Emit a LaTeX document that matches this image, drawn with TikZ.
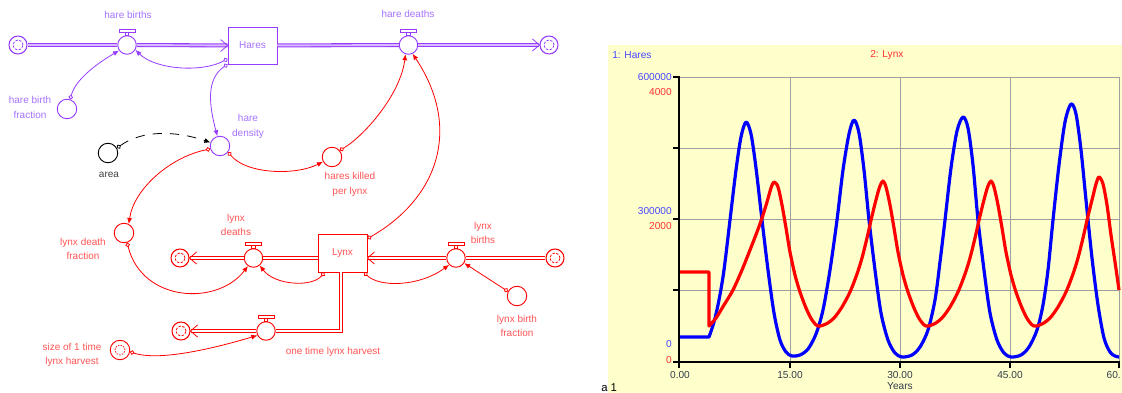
\documentclass[tikz,border=0pt]{standalone}
\usepackage{fontspec}
\setmainfont{Liberation Sans}
\usetikzlibrary{arrows.meta,calc}
\definecolor{pur}{RGB}{150,60,255}
\definecolor{purtxt}{RGB}{165,115,255}
\definecolor{rd}{RGB}{255,0,0}
\definecolor{rdtxt}{RGB}{255,85,85}
\definecolor{chartbg}{RGB}{255,255,204}
\definecolor{gridc}{RGB}{160,160,160}
\definecolor{axblue}{RGB}{70,70,255}
\definecolor{axred}{RGB}{255,50,50}
\definecolor{axtxt}{RGB}{50,60,75}
\definecolor{cblue}{RGB}{0,0,255}
\definecolor{cred}{RGB}{255,0,0}
\begin{document}
\begin{tikzpicture}[x=0.75pt,y=-0.75pt,
  lbl/.style={font=\fontsize{7.5}{11}\selectfont, align=center, inner sep=0pt},
  plbl/.style={lbl, text=purtxt},
  rlbl/.style={lbl, text=rdtxt},
  valve/.style={circle, draw, fill=white, line width=0.7pt, minimum size=13.9pt, inner sep=0pt},
  aux/.style={circle, draw, fill=white, line width=0.7pt, minimum size=14.6pt, inner sep=0pt},
  stock/.style={rectangle, draw, fill=white, line width=0.7pt, minimum width=36.75pt, minimum height=27.75pt, inner sep=0pt, font=\fontsize{7.5}{9}\selectfont},
  cloudn/.style={circle, draw, line width=0.8pt, minimum size=13.5pt, inner sep=0pt,
     path picture={\draw[line width=0.6pt, dash pattern=on 1.8pt off 1.2pt] (path picture bounding box.center) circle[radius=3.8pt];}},
  pipe/.style={line width=0.8pt, double distance=1.4pt},
  conn/.style={line width=0.6pt, {Circle[open,length=3.4pt,width=3.4pt]}-{Latex[length=4.5pt,width=3.8pt]}},
  chevR/.pic={\draw[line width=0.6pt] (-7,-6) -- (0,0) -- (-7,6);},
  chevL/.pic={\draw[line width=0.6pt] (7,-6) -- (0,0) -- (7,6);},
  vbar/.pic={\draw[line width=0.6pt, fill=white] (-8,-5.5) rectangle (8,-2.5) (-1.8,-2.5) rectangle (1.8,0);},
  clbl/.style={font=\fontsize{7.6}{9}\selectfont, inner sep=0pt},
]
\useasboundingbox (0,0) rectangle (1122,393);
\fill[white] (0,0) rectangle (1122,393);

% ================= stock and flow diagram =================
\node[cloudn, draw=pur] (cl1) at (18,45) {};
\node[valve, draw=pur] (hb) at (127,45) {};
\node[stock, draw=pur, text=purtxt] (Hares) at (252.5,45.5) {Hares};
\node[valve, draw=pur] (hd) at (408.5,45) {};
\node[cloudn, draw=pur] (cl2) at (549,45) {};
\node[aux, draw=pur] (hbf) at (67,109) {};
\node[aux, draw=pur] (hden) at (220,146) {};
\node[aux, draw=black] (area) at (108,153) {};
\node[aux, draw=rd] (hkpl) at (332,157) {};
\node[aux, draw=rd] (ldf) at (124,233) {};
\node[stock, draw=rd, text=rdtxt, minimum height=28.5pt] (Lynx) at (342.5,253) {Lynx};
\node[valve, draw=rd] (ld) at (253.5,258) {};
\node[cloudn, draw=rd] (cl3) at (180,258) {};
\node[valve, draw=rd] (lb) at (456,258) {};
\node[cloudn, draw=rd] (cl4) at (555,258) {};
\node[aux, draw=rd] (lbf) at (517,296) {};
\node[valve, draw=rd] (oth) at (266,331) {};
\node[cloudn, draw=rd] (cl5) at (181,331) {};
\node[aux, draw=rd, path picture={\draw[line width=0.5pt, dash pattern=on 1.2pt off 0.9pt] (path picture bounding box.center) circle[radius=3.8pt];}] (sz) at (120,350) {};

% valve bars
\pic[pur] at (hb.north) {vbar};
\pic[pur] at (hd.north) {vbar};
\pic[rd] at (ld.north) {vbar};
\pic[rd] at (lb.north) {vbar};
\pic[rd] at (oth.north) {vbar};

% flows (pipes)
\draw[pipe, pur, double=pur!35] (cl1) -- (hb);
\draw[pipe, pur, double=pur!35] (hb) -- (Hares);
\pic[pur] at (Hares.west) {chevR};
\draw[pipe, pur, double=pur!35] (Hares) -- (hd);
\draw[pipe, pur, double=pur!35] (hd) -- (cl2);
\pic[pur] at (cl2.west) {chevR};

\draw[pipe, rd, double=white] (Lynx.west |- ld) -- (ld);
\draw[pipe, rd, double=white] (ld) -- (cl3);
\pic[rd] at (cl3.east) {chevL};
\draw[pipe, rd, double=white] (cl4) -- (lb);
\draw[pipe, rd, double=white] (lb) -- (Lynx.east |- lb);
\pic[rd] at (Lynx.east |- lb) {chevL};
\draw[pipe, rd, double=white] ([xshift=-1.2pt]Lynx.south) |- (oth);
\draw[pipe, rd, double=white] (oth) -- (cl5);
\pic[rd] at (cl5.east) {chevL};

% connectors
\draw[conn, pur] (hbf.72) .. controls +(6,-22) and +(-17,10) .. (hb.215);
\draw[conn, pur] (Hares.208) .. controls +(-25,14) and +(20,20) .. (hb.-30);
\draw[conn, pur] (Hares.217) .. controls +(-22,15) and +(-8,-30) .. (hden.105);
\draw[conn, black, dash pattern=on 7pt off 6pt] (area.29) .. controls +(25,-18) and +(-35,-12) .. (hden.160);
\draw[conn, rd] (hden.197) .. controls +(-40,8) and +(5,-35) .. (ldf.62);
\draw[conn, rd] (hden.-37) .. controls +(18,22) and +(-28,14) .. (hkpl.208);
\draw[conn, rd] (hkpl.40) .. controls +(25,-15) and +(-5,40) .. (hd.252);
\draw[conn, rd] (Lynx.30) .. controls +(70,-40) and +(50,75) .. (hd.-65);
\draw[conn, rd] (ldf.-72) .. controls +(15,60) and +(-30,40) .. (ld.235);
\draw[conn, rd] (Lynx.227) .. controls +(-12,15) and +(15,20) .. (ld.-50);
\draw[conn, rd] (Lynx.-42) .. controls +(15,15) and +(-30,22) .. (lb.225);
\draw[conn, rd] (lbf.153) -- (lb.-32);
\draw[conn, rd] (sz.-10) .. controls +(30,10) and +(-40,12) .. (oth.207);

% labels
\node[plbl] (lhb) at (128,15) {hare births};
\node[plbl] (lhd) at (408,14) {hare deaths};
\node[plbl] (lhbf) at (30,107.5) {hare birth\\fraction};
\node[plbl] (lhden) at (248,126.5) {hare\\density};
\node[lbl, text=black!75] (larea) at (109,175) {area};
\node[rlbl] (lhkpl) at (350,184.5) {hares killed\\per lynx};
\node[rlbl] (lldf) at (83,249) {lynx death\\fraction};
\node[rlbl] (lld) at (236,225) {lynx\\deaths};
\node[rlbl] (llb) at (483,233) {lynx\\births};
\node[rlbl] (llbf) at (517,326) {lynx birth\\fraction};
\node[rlbl] (lsz) at (72,355) {size of 1 time\\lynx harvest};
\node[rlbl] (loth) at (333,352) {one time lynx harvest};

% ================= graph =================
\fill[chartbg] (608,45) rectangle (1122,393);
\draw[gridc, line width=0.6pt]
  (679,77) -- (1119,77) (679,148) -- (1119,148) (679,219) -- (1119,219) (679,290) -- (1119,290)
  (790,77) -- (790,362) (900,77) -- (900,362) (1010,77) -- (1010,362) (1119,77) -- (1119,362);

\draw[cblue, line width=2.4pt, line join=round] (680,337) -- plot[smooth, tension=0.5] coordinates {
 (709,337) (714,322) (719,300) (724,270) (730,220) (736,170) (741,137) (746,122) (751,134) (756,168)
 (762,220) (768,270) (774,313) (780,340) (786,352) (792,356) (800,355) (808,349) (816,334) (823,310)
 (830,270) (837,220) (843,170) (849,134) (854,120) (859,133) (864,170) (869,220) (875,270) (881,313)
 (888,340) (895,353) (902,357) (912,355) (920,347) (928,330) (935,300) (940,262) (945,220) (951,168)
 (957,131) (963,117) (968,128) (973,165) (978,220) (984,270) (990,313) (997,340) (1004,353) (1011,357)
 (1021,355) (1029,347) (1037,330) (1043,305) (1048,270) (1053,220) (1059,165) (1065,122) (1071,104)
 (1076,114) (1081,150) (1086,200) (1092,258) (1098,305) (1104,338) (1110,352) (1115,356) (1119,357)};

\draw[cred, line width=2.4pt, line join=round] (680,272) -- (709,272) -- plot[smooth, tension=0.5] coordinates {
 (709,326) (716,318) (724,305) (733,290) (742,270) (750,250) (757,232) (762,218) (767,202) (771,188) (774,182)
 (778,187) (782,205) (786,228) (790,252) (795,275) (800,292) (806,308) (812,320) (818,326)
 (826,324) (834,318) (842,307) (850,292) (857,274) (862,258) (867,238) (872,216) (877,196) (880,186) (883,181)
 (886,187) (890,205) (894,228) (898,252) (903,275) (908,292) (914,308) (920,320) (926,326)
 (934,324) (942,318) (950,307) (958,292) (965,274) (970,258) (975,238) (980,216) (985,196) (988,186) (991,181)
 (994,187) (998,205) (1002,228) (1006,252) (1011,275) (1016,292) (1022,308) (1028,320) (1034,326)
 (1042,324) (1050,318) (1058,307) (1066,292) (1073,274) (1078,258) (1083,238) (1088,216) (1093,196) (1096,184) (1099,177)
 (1103,184) (1107,205) (1111,235) (1115,262) (1119,290)};

% axes
\draw[black, line width=1.6pt] (679,76) -- (679,362) -- (1120,362);
\draw[black, line width=1pt]
  (673,77) -- (679,77) (673,148) -- (679,148) (673,219) -- (679,219) (673,290) -- (679,290) (673,362) -- (679,362)
  (679,362) -- (679,368) (790,362) -- (790,368) (900,362) -- (900,368) (1010,362) -- (1010,368) (1119,362) -- (1119,368);

\node[clbl, text=axblue, anchor=east] (y1) at (672,77) {600000};
\node[clbl, text=axred, anchor=east] (y2) at (672,92) {4000};
\node[clbl, text=axblue, anchor=east] (y3) at (672,211) {300000};
\node[clbl, text=axred, anchor=east] (y4) at (672,226) {2000};
\node[clbl, text=axblue, anchor=east] (y5) at (672,344) {0};
\node[clbl, text=axred, anchor=east] (y6) at (672,360) {0};
\node[clbl, text=axtxt] (x0) at (680,375) {0.00};
\node[clbl, text=axtxt] (x1) at (790,375) {15.00};
\node[clbl, text=axtxt] (x2) at (900,375) {30.00};
\node[clbl, text=axtxt] (x3) at (1010,375) {45.00};
\node[clbl, text=axtxt, anchor=east] (x4) at (1121,375) {60.};
\node[clbl, text=axtxt] (xt) at (900,386) {Years};
\node[clbl, text=axblue, anchor=west] (t1) at (612,55) {1: Hares};
\node[clbl, text=axred, anchor=west] (t2) at (870,55) {2: Lynx};
\node[clbl, text=black, anchor=north west, font=\fontsize{8.5}{9}\selectfont] (pg) at (601,383) {a 1};
\end{tikzpicture}
\end{document}
